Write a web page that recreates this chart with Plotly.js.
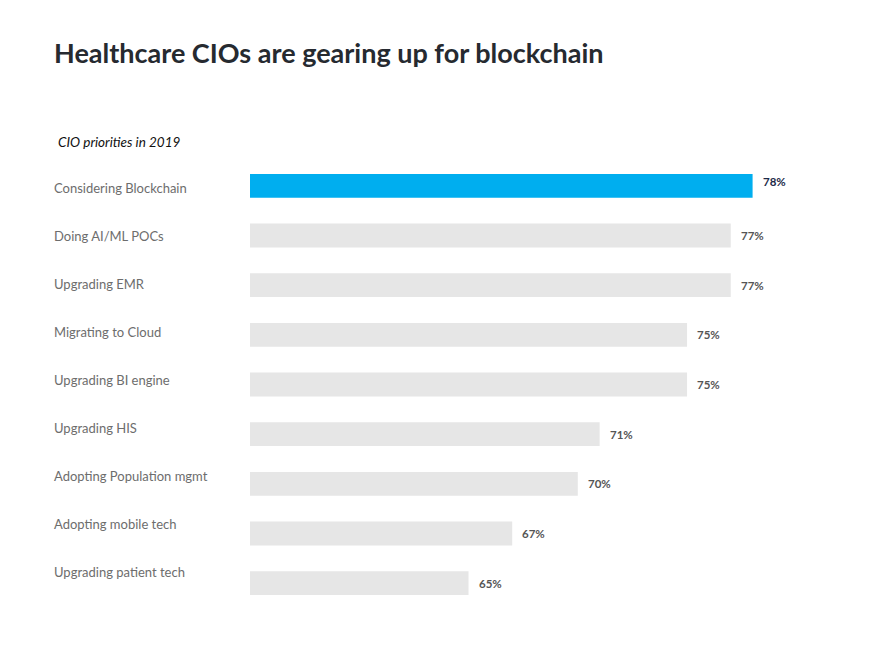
<!DOCTYPE html>
<html>
<head>
<meta charset="utf-8">
<script src="https://cdn.plot.ly/plotly-3.0.1.min.js"></script>
<style>html,body{margin:0;padding:0;background:#fff;}#chart{width:870px;height:653px;}</style>
</head>
<body>
<div id="chart"></div>
<script>
const categories = ["Considering Blockchain","Doing AI/ML POCs","Upgrading EMR","Migrating to Cloud","Upgrading BI engine","Upgrading HIS","Adopting Population mgmt","Adopting mobile tech","Upgrading patient tech"];
const values = [78,77,77,75,75,71,70,67,65];
const valueLabels = ["78%","77%","77%","75%","75%","71%","70%","67%","65%"];
const chartTitle = "Healthcare CIOs are gearing up for blockchain";
const subtitle = "CIO priorities in 2019";

const FONT = "Lato, 'Open Sans', sans-serif";
const barColors = categories.map((c,i)=> i===0 ? "#00aeef" : "#e6e6e6");

const traces = [
  {type:"bar", orientation:"h", y:categories, x:values, marker:{color:barColors}, hoverinfo:"skip", xaxis:"x", yaxis:"y"},
  {type:"scatter", mode:"markers", y:categories, x:values, marker:{opacity:0,size:1}, hoverinfo:"skip", xaxis:"x", yaxis:"y2", showlegend:false}
];

const annotations = [];
annotations.push({xref:"paper", yref:"paper", x:-0.329, y:1.043, xanchor:"left", yanchor:"middle", text:"<i>"+subtitle+"</i>", showarrow:false, font:{family:FONT, size:13.5, color:"#111"}});
categories.forEach((c,i)=>{
  annotations.push({xref:"paper", yref:"y2", x:-0.3356, y:c, xanchor:"left", yanchor:"middle", text:c, showarrow:false, font:{family:FONT, size:13, color:"#6d6d6d"}});
  annotations.push({xref:"x", yref:"y", x:values[i], y:c, xanchor:"left", yanchor:"middle", xshift:8, yshift: i===0 ? 4 : 0, text:"<b>"+valueLabels[i]+"</b>", showarrow:false, font:{family:FONT, size:11.5, color: i===0 ? "#1c2a48" : "#555555"}});
});

const layout = {
  width:870, height:653,
  margin:{l:250, r:30, t:161, b:45},
  paper_bgcolor:"#fff", plot_bgcolor:"#fff",
  showlegend:false,
  bargap:0.52,
  title:{text:"<b>"+chartTitle+"</b>", xref:"container", yref:"container", x:54/870, xanchor:"left", y:1-54/653, yanchor:"middle", font:{family:FONT, size:27, color:"#262a30"}},
  xaxis:{range:[55,82], showgrid:false, zeroline:false, showticklabels:false, showline:false, ticks:""},
  yaxis:{type:"category", range:[8.5,-0.5], autorange:false, showgrid:false, zeroline:false, showticklabels:false, showline:false, ticks:""},
  yaxis2:{type:"category", overlaying:"y", range:[8.746,-0.558], autorange:false, showgrid:false, zeroline:false, showticklabels:false, showline:false, ticks:""},
  annotations:annotations
};

Plotly.newPlot("chart", traces, layout, {displayModeBar:false, staticPlot:true});
</script>
</body>
</html>
